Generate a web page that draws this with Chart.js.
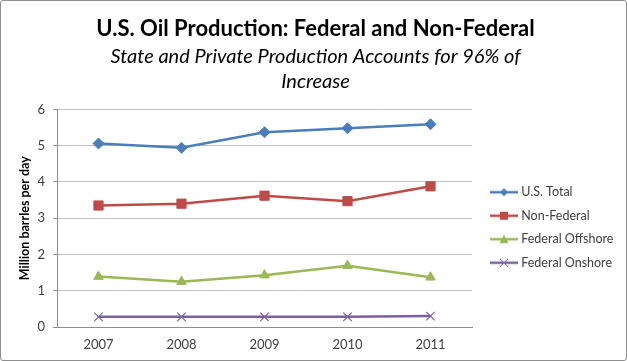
<!DOCTYPE html>
<html>
<head>
<meta charset="utf-8">
<title>U.S. Oil Production</title>
<script src="https://cdn.jsdelivr.net/npm/chart.js@4.4.1/dist/chart.umd.min.js"></script>
<style>
    html, body { margin: 0; padding: 0; background: #fff; }
    #wrap {
        width: 627px;
        height: 361px;
        box-sizing: border-box;
        border: 1px solid #8e8e8e;
        border-radius: 3px;
    }
    #oilChart { display: block; }
</style>
</head>
<body>
<div id="wrap"><canvas id="oilChart" width="625" height="359"></canvas></div>

<script>
/* ---------- DATA ---------- */
const years = ["2007", "2008", "2009", "2010", "2011"];

const usTotal = [5.06, 4.94, 5.37, 5.48, 5.59];
const nonFederal = [3.35, 3.40, 3.62, 3.47, 3.88];
const federalOffshore = [1.39, 1.25, 1.43, 1.69, 1.37];
const federalOnshore = [0.28, 0.28, 0.28, 0.28, 0.30];

const yTicks = [0, 1, 2, 3, 4, 5, 6];

const FONT = "Lato, 'Open Sans', sans-serif";
const TEXT = "#404040";


/* ---------- LEGEND SWATCHES (line + marker) ---------- */
function legendSwatch(color, style) {
    const c = document.createElement("canvas");
    c.width = 28;
    c.height = 12;
    const g = c.getContext("2d");
    g.strokeStyle = color;
    g.fillStyle = color;
    g.lineWidth = 2.5;
    g.beginPath();
    g.moveTo(0, 6);
    g.lineTo(28, 6);
    g.stroke();

    g.beginPath();
    if (style === "rectRot") {
        g.moveTo(14, 2); g.lineTo(18, 6); g.lineTo(14, 10); g.lineTo(10, 6);
        g.closePath(); g.fill();
    } else if (style === "rect") {
        g.fillRect(10, 2, 8, 8);
    } else if (style === "triangle") {
        g.moveTo(14, 1.5); g.lineTo(18.5, 10); g.lineTo(9.5, 10);
        g.closePath(); g.fill();
    } else if (style === "crossRot") {
        g.lineWidth = 1;
        g.moveTo(10, 2); g.lineTo(18, 10);
        g.moveTo(18, 2); g.lineTo(10, 10);
        g.stroke();
    }
    return c;
}


/* ---------- LEGEND PLACEMENT ---------- */
// fixed legend width so the plot ends where the reference's does,
// and the legend block sits beside the middle of the plot
const legendPlacer = {
    id: "legendPlacer",
    beforeLayout(chart) {
        const lg = chart.legend;
        if (lg && !lg._fitPatched) {
            const fit = lg.fit.bind(lg);
            lg.fit = function () {
                fit();
                this.width = 142;
            };
            lg._fitPatched = true;
        }
    },
    afterLayout(chart) {
        const lg = chart.legend;
        if (!lg) return;
        const pad = lg.options.labels.padding;
        const h = lg.bottom - lg.top;
        lg.top = 185 - pad;
        lg.bottom = lg.top + h;
        lg.left += 10;
        lg.right += 10;
    }
};


/* ---------- CHART ---------- */
function renderChart() {

    const series = [
        { label: "U.S. Total",       data: usTotal,         color: "#4a7ebb", style: "rectRot",  radius: 5.5 },
        { label: "Non-Federal",      data: nonFederal,      color: "#be4b48", style: "rect",     radius: 6.5 },
        { label: "Federal Offshore", data: federalOffshore, color: "#98b954", style: "triangle", radius: 5.5 },
        { label: "Federal Onshore",  data: federalOnshore,  color: "#7d60a0", style: "crossRot", radius: 6 }
    ];

    const ctx = document.getElementById("oilChart").getContext("2d");

    new Chart(ctx, {
        type: "line",
        plugins: [legendPlacer],
        data: {
            labels: years,
            datasets: series.map(s => ({
                label: s.label,
                data: s.data,
                borderColor: s.color,
                backgroundColor: s.color,
                borderWidth: 2.5,
                pointStyle: s.style,
                pointRadius: s.radius,
                pointBorderWidth: s.style === "crossRot" ? 1.3 : 1,
                pointBackgroundColor: s.color,
                pointBorderColor: s.color,
                tension: 0,
                fill: false,
                swatch: legendSwatch(s.color, s.style)
            }))
        },
        options: {
            responsive: false,
            animation: false,
            layout: { padding: { left: 16, right: 12, top: 0, bottom: 0 } },
            plugins: {
                title: {
                    display: true,
                    text: "U.S. Oil Production: Federal and Non-Federal",
                    color: "#000",
                    font: { family: FONT, size: 22, weight: "bold" },
                    padding: { top: 15, bottom: 2 }
                },
                subtitle: {
                    display: true,
                    text: ["State and Private Production Accounts for 96% of", "Increase"],
                    color: "#000",
                    font: { family: FONT, size: 20, style: "italic", lineHeight: 1.25 },
                    padding: { top: 0, bottom: 15 }
                },
                legend: {
                    position: "right",
                    align: "start",
                    labels: {
                        color: TEXT,
                        font: { family: FONT, size: 12.5 },
                        usePointStyle: true,
                        pointStyleWidth: 22,
                        padding: 11,
                        generateLabels(chart) {
                            return chart.data.datasets.map((d, i) => ({
                                text: d.label,
                                pointStyle: d.swatch,
                                fontColor: TEXT,
                                lineWidth: 0,
                                hidden: false,
                                datasetIndex: i
                            }));
                        }
                    }
                },
                tooltip: { enabled: false }
            },
            scales: {
                x: {
                    offset: true,
                    grid: { display: false, tickLength: 4 },
                    border: { color: "#8c8c8c" },
                    ticks: { color: TEXT, font: { family: FONT, size: 13 }, padding: 6 },
                    afterFit(axis) { axis.height = 33; }
                },
                y: {
                    min: 0,
                    max: 6,
                    afterBuildTicks(axis) {
                        axis.ticks = yTicks.map(v => ({ value: v }));
                    },
                    grid: { color: "#c0c0c0", tickLength: 4, tickColor: "#8c8c8c" },
                    border: { color: "#8c8c8c" },
                    ticks: { color: TEXT, font: { family: FONT, size: 13 }, padding: 8 },
                    title: {
                        display: true,
                        text: "Million barrles per day",
                        color: "#000",
                        font: { family: FONT, size: 12.5, weight: "bold" },
                        padding: { top: 0, bottom: 4 }
                    },
                    afterFit(axis) { axis.width = 40; }
                }
            }
        }
    });
}

renderChart();
</script>
</body>
</html>
